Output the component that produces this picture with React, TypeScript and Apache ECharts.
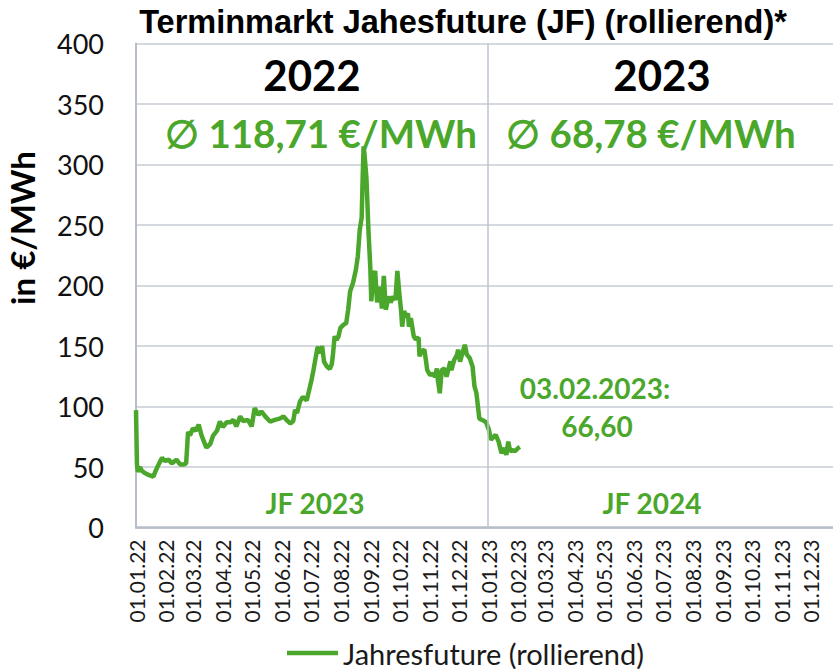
import React, { useEffect, useRef } from "react";
import * as echarts from "echarts";

const dates: string[] = [
  "2022-01-01","2022-01-02","2022-01-03","2022-01-05","2022-01-07","2022-01-10","2022-01-14","2022-01-19","2022-01-22","2022-01-25",
  "2022-01-28","2022-01-31","2022-02-04","2022-02-07","2022-02-12","2022-02-16","2022-02-19","2022-02-22","2022-02-24","2022-02-26",
  "2022-03-01","2022-03-04","2022-03-07","2022-03-10","2022-03-13","2022-03-15","2022-03-19","2022-03-22","2022-03-26","2022-03-29",
  "2022-04-01","2022-04-05","2022-04-09","2022-04-12","2022-04-15","2022-04-19","2022-04-22","2022-04-27","2022-05-01","2022-05-04",
  "2022-05-08","2022-05-11","2022-05-15","2022-05-20","2022-05-25","2022-05-30","2022-06-03","2022-06-06","2022-06-10","2022-06-13",
  "2022-06-15","2022-06-17","2022-06-20","2022-06-23","2022-06-27","2022-06-30","2022-07-02","2022-07-04","2022-07-06","2022-07-08",
  "2022-07-09","2022-07-11","2022-07-13","2022-07-15","2022-07-18","2022-07-21","2022-07-23","2022-07-24","2022-07-26","2022-07-28",
  "2022-07-30","2022-08-01","2022-08-04","2022-08-07","2022-08-09","2022-08-11","2022-08-14","2022-08-17","2022-08-19","2022-08-21",
  "2022-08-23","2022-08-24","2022-08-25","2022-08-26","2022-08-28","2022-08-30","2022-09-01","2022-09-02","2022-09-04","2022-09-06",
  "2022-09-08","2022-09-11","2022-09-13","2022-09-15","2022-09-17","2022-09-20","2022-09-22","2022-09-25","2022-09-27","2022-09-29",
  "2022-10-01","2022-10-03","2022-10-04","2022-10-06","2022-10-08","2022-10-10","2022-10-11","2022-10-13","2022-10-16","2022-10-18",
  "2022-10-21","2022-10-22","2022-10-24","2022-10-27","2022-10-29","2022-10-30","2022-11-02","2022-11-05","2022-11-07","2022-11-09",
  "2022-11-10","2022-11-12","2022-11-14","2022-11-17","2022-11-19","2022-11-23","2022-11-24","2022-11-27","2022-11-30","2022-12-01",
  "2022-12-03","2022-12-06","2022-12-08","2022-12-10","2022-12-13","2022-12-16","2022-12-18","2022-12-20","2022-12-23","2022-12-27",
  "2022-12-30","2023-01-02","2023-01-04","2023-01-07","2023-01-09","2023-01-12","2023-01-15","2023-01-18","2023-01-20","2023-01-22",
  "2023-01-24","2023-01-27","2023-01-29","2023-02-01","2023-02-03",
];

const jahresfuture: number[] = [
  97, 52, 46, 50, 47, 45, 43.5, 42, 48, 53,
  57.5, 55, 56, 53, 56, 52, 52, 53, 79, 76,
  82, 80, 85, 76, 70, 66, 69, 76, 80, 87.6,
  83, 87, 87, 89, 83.5, 91.8, 88, 89, 83.5, 98.7,
  93, 96, 91.8, 87.6, 89, 90, 91.8, 89, 86, 88,
  97.3, 94.6, 104, 108, 105, 115, 122, 130, 139, 148,
  149, 144, 150, 137, 133, 131, 135, 141, 158, 155,
  158, 165, 167.5, 169, 180, 195, 202, 213, 224, 246,
  256, 288, 315, 308, 288, 246, 214, 187, 208, 212,
  186, 199, 181, 208, 180, 191, 186, 191, 188, 212,
  194, 178, 166, 179, 174, 177, 166, 173, 158, 155.5,
  157, 141.5, 145.6, 147, 136, 130, 126, 127, 124.6, 131.5,
  122, 111, 130, 131.5, 124.6, 137.3, 130, 138.6, 143, 147,
  137, 145.6, 151, 143, 140, 133, 116.6, 111, 90, 88.5,
  87, 80.7, 72.5, 75, 76.5, 71, 61.4, 65.5, 60, 71,
  63, 64, 63, 65.5, 66.6,
];

const monthTicks: string[] = [
  "2022-01-01","2022-02-01","2022-03-01","2022-04-01","2022-05-01","2022-06-01",
  "2022-07-01","2022-08-01","2022-09-01","2022-10-01","2022-11-01","2022-12-01",
  "2023-01-01","2023-02-01","2023-03-01","2023-04-01","2023-05-01","2023-06-01",
  "2023-07-01","2023-08-01","2023-09-01","2023-10-01","2023-11-01","2023-12-01",
];

const yearDivider = "2023-01-01";
const axisStart = "2022-01-01";
const axisEnd = "2024-01-01";

const titleText = "Terminmarkt Jahesfuture (JF) (rollierend)*";
const yAxisName = "in €/MWh";
const years = ["2022", "2023"];
const averages = ["∅ 118,71 €/MWh", "∅ 68,78 €/MWh"];
const contracts = ["JF 2023", "JF 2024"];
const lastLabel = ["03.02.2023:", "66,60"];
const seriesName = "Jahresfuture (rollierend)";

const GREEN = "#4aa72c";
const GRID = "#c6cdd6";
const FONT = "Lato, 'Open Sans', sans-serif";

function toTs(s: string): number {
  const [y, m, d] = s.split("-").map(Number);
  return Date.UTC(y, m - 1, d);
}

function fmt(v: number): string {
  const d = new Date(v);
  const dd = String(d.getUTCDate()).padStart(2, "0");
  const mm = String(d.getUTCMonth() + 1).padStart(2, "0");
  const yy = String(d.getUTCFullYear() % 100).padStart(2, "0");
  return `${dd}.${mm}.${yy}`;
}

export default function App() {
  const ref = useRef<HTMLDivElement>(null);
  useEffect(() => {
    if (!ref.current) return;
    const chart = echarts.init(ref.current, undefined, { renderer: "svg" });
    const data = dates.map((d, i) => [toTs(d), jahresfuture[i]]);
    const txt = (text: string, x: number, y: number, size: number, color: string, weight: any = "bold", family = FONT, rotation = 0) => ({
      type: "text",
      x,
      y,
      rotation,
      silent: true,
      style: {
        text,
        fontSize: size,
        fontWeight: weight,
        fontFamily: family,
        fill: color,
        align: "center",
        verticalAlign: "middle",
        textAlign: "center",
        textVerticalAlign: "middle",
      },
    });
    chart.setOption({
      animation: false,
      backgroundColor: "#ffffff",
      grid: { left: 136, top: 43.5, width: 704, height: 484, containLabel: false, outerBoundsMode: "none" },
      xAxis: {
        type: "value",
        min: toTs(axisStart),
        max: toTs(axisEnd),
        axisLine: { show: true, lineStyle: { color: "#b7bec8", width: 2.5 } },
        axisTick: { show: false },
        splitLine: { show: false },
        axisLabel: {
          customValues: monthTicks.map(toTs),
          rotate: 90,
          margin: 12,
          fontSize: 21,
          fontFamily: FONT,
          color: "#1a1a1a",
          hideOverlap: false,
          showMinLabel: true,
          showMaxLabel: true,
          formatter: (v: number) => fmt(v),
        },
      },
      yAxis: {
        type: "value",
        min: 0,
        max: 400,
        interval: 50,
        axisLine: { show: true, lineStyle: { color: "#b7bec8", width: 2 } },
        axisTick: { show: false },
        splitLine: { show: true, lineStyle: { color: GRID, width: 1.5 } },
        axisLabel: { fontSize: 27, fontFamily: FONT, color: "#111", margin: 32 },
      },
      legend: {
        data: [seriesName],
        left: 287,
        top: 638,
        padding: 0,
        icon: "rect",
        itemWidth: 51,
        itemHeight: 4.5,
        itemGap: 10,
        textStyle: { fontSize: 29, fontFamily: FONT, color: "#1a1a1a", lineHeight: 30 },
      },
      series: [
        {
          name: seriesName,
          type: "line",
          data,
          showSymbol: false,
          symbol: "none",
          lineStyle: { color: GREEN, width: 4.5 },
          itemStyle: { color: GREEN },
          markLine: {
            silent: true,
            symbol: ["none", "none"],
            label: { show: false },
            lineStyle: { color: "#bcc4ce", width: 1.5, type: "solid" },
            data: [{ xAxis: toTs(yearDivider) }],
          },
        },
      ],
      graphic: [
        txt(titleText, 463, 22, 32.5, "#000", "bold", "'Liberation Sans Narrow', 'Arial Narrow', 'Liberation Sans', Arial, sans-serif"),
        txt(yAxisName, 22, 228, 33, "#000", "bold", FONT, Math.PI / 2),
        txt(years[0], 312, 75, 42, "#000"),
        txt(years[1], 662, 75, 42, "#000"),
        txt(averages[0], 321, 133, 38.5, GREEN),
        txt(averages[1], 651, 133, 38.5, GREEN),
        txt(lastLabel[0], 595, 388, 28, GREEN),
        txt(lastLabel[1], 597, 426, 28, GREEN),
        txt(contracts[0], 315, 503, 28, GREEN),
        txt(contracts[1], 652, 503, 28, GREEN),
      ],
    });
    return () => chart.dispose();
  }, []);
  return <div ref={ref} style={{ position: "absolute", left: 0, top: 0, width: 833, height: 669 }} />;
}
